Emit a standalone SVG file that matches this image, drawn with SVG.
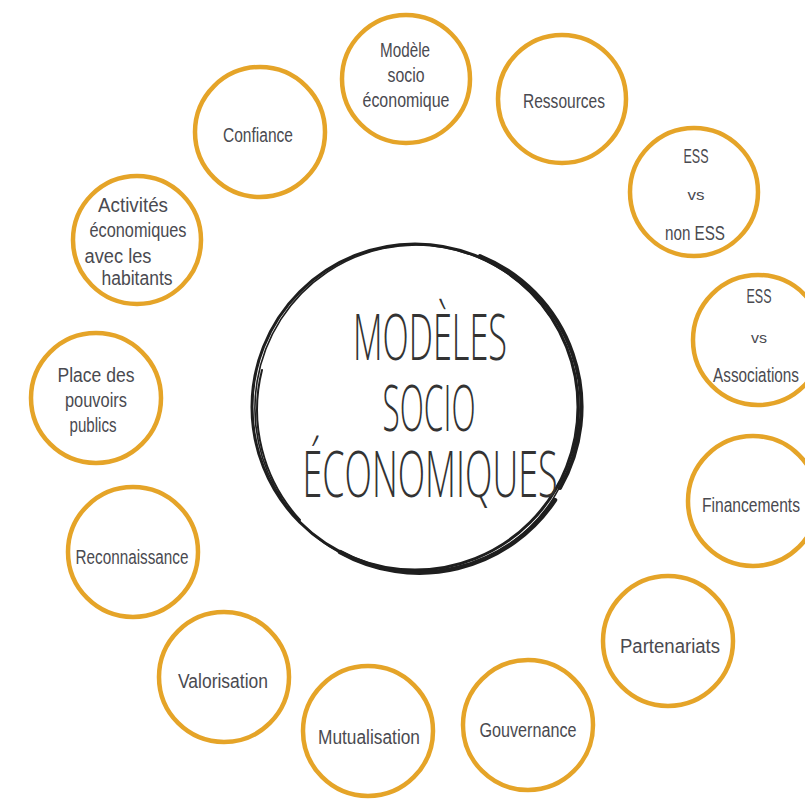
<svg xmlns="http://www.w3.org/2000/svg" width="805" height="799" viewBox="0 0 805 799">
  <style>
    .ring { fill: #ffffff; stroke: #e5a428; stroke-width: 4.5; }
    .lbl { font-family: "Liberation Sans", "DejaVu Sans", sans-serif; font-size: 20px; fill: #4a4a50; text-anchor: middle; }
    .small { font-size: 14px; }
    .hub { font-family: "Open Sans", "Liberation Sans", sans-serif; font-weight: 300; font-size: 64px; fill: #333; text-anchor: middle; }
    .sketch { fill: none; stroke: #1e1e1e; stroke-linecap: round; }
  </style>
  <rect width="805" height="799" fill="#ffffff"/>

  <!-- central hand-drawn circle -->
  <g id="hub">
    <circle class="sketch" cx="415" cy="407" r="163" stroke-width="3"/>
    <ellipse class="sketch" cx="417" cy="409" rx="162" ry="164" stroke-width="1.6" transform="rotate(-12 417 409)"/>
    <path class="sketch" d="M 480 256 A 163 163 0 0 1 560 488" stroke-width="4"/>
    <path class="sketch" d="M 555 500 A 163 163 0 0 1 340 552" stroke-width="4.5"/>
    <path class="sketch" d="M 300 520 A 163 163 0 0 1 262 370" stroke-width="2"/>
    <text class="hub" x="430" y="360" textLength="154" lengthAdjust="spacingAndGlyphs">MODÈLES</text>
    <text class="hub" x="429" y="431" textLength="93" lengthAdjust="spacingAndGlyphs">SOCIO</text>
    <text class="hub" x="430" y="497" textLength="255" lengthAdjust="spacingAndGlyphs">ÉCONOMIQUES</text>
  </g>

  <!-- surrounding topics -->
  <g id="modele">
    <circle class="ring" cx="406" cy="79" r="64"/>
    <text class="lbl" x="405" y="57" textLength="50" lengthAdjust="spacingAndGlyphs">Modèle</text>
    <text class="lbl" x="406" y="82" textLength="37" lengthAdjust="spacingAndGlyphs">socio</text>
    <text class="lbl" x="406" y="107" textLength="87" lengthAdjust="spacingAndGlyphs">économique</text>
  </g>
  <g id="ressources">
    <circle class="ring" cx="562" cy="99" r="64"/>
    <text class="lbl" x="564" y="108" textLength="82" lengthAdjust="spacingAndGlyphs">Ressources</text>
  </g>
  <g id="ess-non-ess">
    <circle class="ring" cx="694" cy="192" r="64"/>
    <text class="lbl" x="696" y="163" textLength="25" lengthAdjust="spacingAndGlyphs">ESS</text>
    <text class="lbl small" x="696" y="200" textLength="17" lengthAdjust="spacingAndGlyphs">vs</text>
    <text class="lbl" x="695" y="240" textLength="60" lengthAdjust="spacingAndGlyphs">non ESS</text>
  </g>
  <g id="ess-associations">
    <circle class="ring" cx="758" cy="340" r="65"/>
    <text class="lbl" x="759" y="303" textLength="25" lengthAdjust="spacingAndGlyphs">ESS</text>
    <text class="lbl small" x="759" y="343" textLength="16" lengthAdjust="spacingAndGlyphs">vs</text>
    <text class="lbl" x="756" y="382" textLength="86" lengthAdjust="spacingAndGlyphs">Associations</text>
  </g>
  <g id="financements">
    <circle class="ring" cx="753" cy="501" r="65"/>
    <text class="lbl" x="751" y="512" textLength="98" lengthAdjust="spacingAndGlyphs">Financements</text>
  </g>
  <g id="partenariats">
    <circle class="ring" cx="668" cy="641" r="65"/>
    <text class="lbl" x="670" y="653" textLength="100" lengthAdjust="spacingAndGlyphs">Partenariats</text>
  </g>
  <g id="gouvernance">
    <circle class="ring" cx="528" cy="725" r="65"/>
    <text class="lbl" x="528" y="737" textLength="97" lengthAdjust="spacingAndGlyphs">Gouvernance</text>
  </g>
  <g id="mutualisation">
    <circle class="ring" cx="368" cy="731" r="65"/>
    <text class="lbl" x="369" y="744" textLength="102" lengthAdjust="spacingAndGlyphs">Mutualisation</text>
  </g>
  <g id="valorisation">
    <circle class="ring" cx="224" cy="677" r="65"/>
    <text class="lbl" x="223" y="688" textLength="90" lengthAdjust="spacingAndGlyphs">Valorisation</text>
  </g>
  <g id="reconnaissance">
    <circle class="ring" cx="133" cy="552" r="65"/>
    <text class="lbl" x="132" y="564" textLength="113" lengthAdjust="spacingAndGlyphs">Reconnaissance</text>
  </g>
  <g id="pouvoirs-publics">
    <circle class="ring" cx="96" cy="398" r="65"/>
    <text class="lbl" x="96" y="382" textLength="77" lengthAdjust="spacingAndGlyphs">Place des</text>
    <text class="lbl" x="96" y="407" textLength="62" lengthAdjust="spacingAndGlyphs">pouvoirs</text>
    <text class="lbl" x="93" y="432" textLength="47" lengthAdjust="spacingAndGlyphs">publics</text>
  </g>
  <g id="activites">
    <circle class="ring" cx="137" cy="240" r="64"/>
    <text class="lbl" x="133" y="212" textLength="70" lengthAdjust="spacingAndGlyphs">Activités</text>
    <text class="lbl" x="138" y="237" textLength="97" lengthAdjust="spacingAndGlyphs">économiques</text>
    <text class="lbl" x="118" y="263" textLength="67" lengthAdjust="spacingAndGlyphs">avec les</text>
    <text class="lbl" x="137" y="285" textLength="71" lengthAdjust="spacingAndGlyphs">habitants</text>
  </g>
  <g id="confiance">
    <circle class="ring" cx="260" cy="132" r="65"/>
    <text class="lbl" x="258" y="142" textLength="70" lengthAdjust="spacingAndGlyphs">Confiance</text>
  </g>

  <!-- no connectors in this figure -->
  <g id="connectors"/>
</svg>
